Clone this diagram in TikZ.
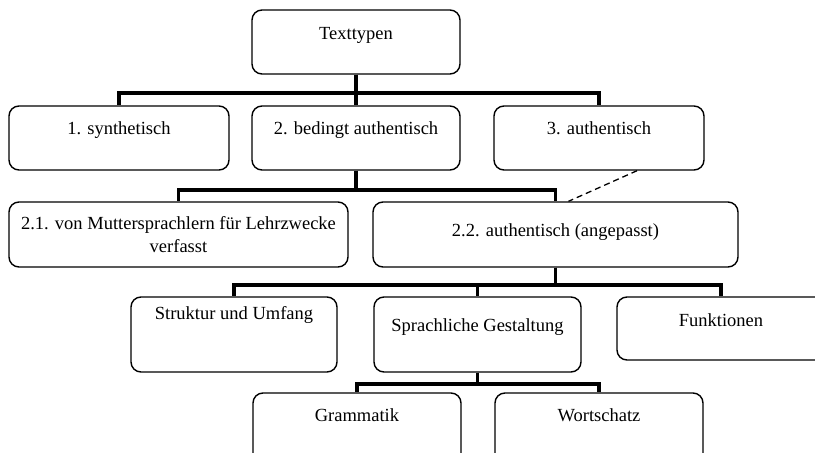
\documentclass[tikz,border=0pt]{standalone}
\usepackage{fontspec}
\setmainfont{Liberation Serif}
\tikzset{
  BoxStyle/.style = { draw, rounded corners=10pt, line width=1.4pt,
                      inner sep=0pt, text height=13pt,
                      font = \fontsize{18.5}{23}\selectfont },
  LinkStyle/.style = { line width=3.6pt },
  DashStyle/.style = { line width=1.3pt, dash pattern=on 6pt off 4pt } }
\begin{document}
\begin{tikzpicture}[x=1pt,y=-1pt]
  \useasboundingbox (0,0) rectangle (815,453);
  \clip (0,0) rectangle (815,453);
  \node[BoxStyle, minimum width=208pt, minimum height=64pt, text depth=19pt](tt) at (356,42) {Texttypen};
  \node[BoxStyle, minimum width=220pt, minimum height=64pt, text depth=21pt](syn) at (119,138) {1. synthetisch};
  \node[BoxStyle, minimum width=208pt, minimum height=64pt, text depth=21pt](bed) at (356,138) {2. bedingt authentisch};
  \node[BoxStyle, minimum width=210pt, minimum height=64pt, text depth=21pt](aut) at (599,138) {3. authentisch};
  \node[BoxStyle, minimum width=339pt, minimum height=65pt, text height={}, align=center](mut) at (178.5,234.5) {2.1. von Muttersprachlern f\"ur Lehrzwecke\\verfasst};
  \node[BoxStyle, minimum width=365pt, minimum height=65pt, text depth=10pt](ang) at (555.5,234.5) {2.2. authentisch (angepasst)};
  \node[BoxStyle, minimum width=206pt, minimum height=75pt, text depth=44pt](str) at (234,334.5) {Struktur und Umfang};
  \node[BoxStyle, minimum width=207pt, minimum height=75pt, text depth=20pt](spr) at (477.5,334.5) {Sprachliche Gestaltung};
  \node[BoxStyle, minimum width=208pt, minimum height=63pt, text depth=18pt](fkt) at (721,328.5) {Funktionen};
  \node[BoxStyle, minimum width=208pt, minimum height=70pt, text depth=27pt](gram) at (357,428) {Grammatik};
  \node[BoxStyle, minimum width=208pt, minimum height=70pt, text depth=27pt](wort) at (599,428) {Wortschatz};

  \draw[LinkStyle] (tt.south) -- ++(0,18) -| (syn.north);
  \draw[LinkStyle] (tt.south) -- (bed.north);
  \draw[LinkStyle] (tt.south) -- ++(0,18) -| (aut.north);

  \draw[LinkStyle] (bed.south) -- ++(0,19) -| (mut.north);
  \draw[LinkStyle] (bed.south) -- ++(0,19) -| (ang.north);
  \draw[DashStyle] ([xshift=38pt]aut.south) -- ([xshift=13pt]ang.north);

  \draw[LinkStyle] (ang.south) -- ++(0,17) -| (str.north);
  \draw[LinkStyle] (ang.south) -- ++(0,17) -| (spr.north);
  \draw[LinkStyle] (ang.south) -- ++(0,17) -| (fkt.north);

  \draw[LinkStyle] (spr.south) -- ++(0,11) -| (gram.north);
  \draw[LinkStyle] (spr.south) -- ++(0,11) -| (wort.north);
\end{tikzpicture}
\end{document}
